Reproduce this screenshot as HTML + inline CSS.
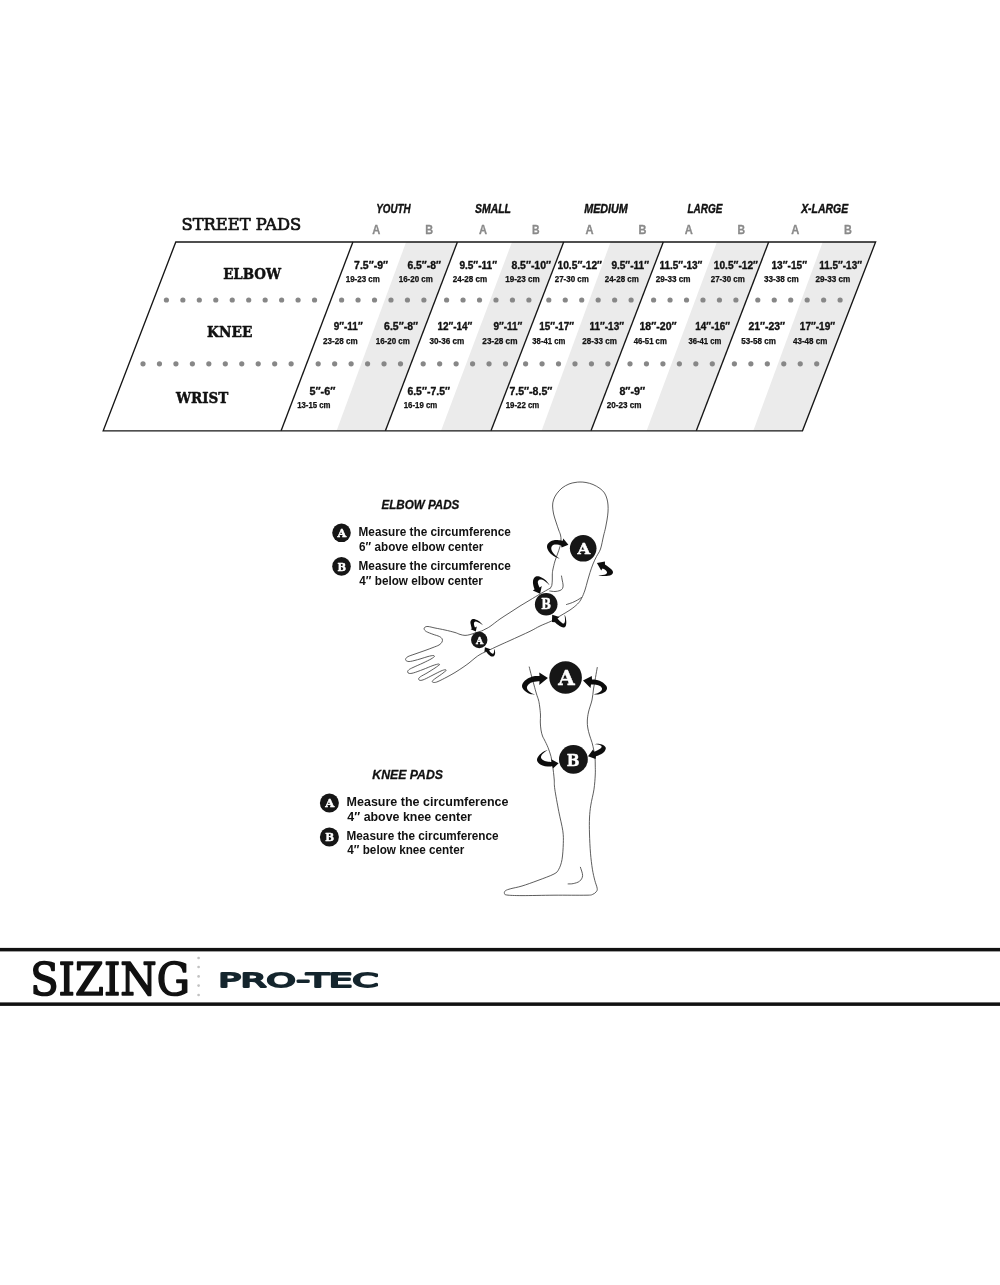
<!DOCTYPE html>
<html lang="en">
<head>
<meta charset="utf-8">
<title>Pro-Tec Street Pads Sizing</title>
<style>
html,body{margin:0;padding:0;background:#fff;}
body{width:1000px;height:1285px;overflow:hidden;font-family:"Liberation Sans", "DejaVu Sans", sans-serif;}
svg{display:block;will-change:transform;}
text{white-space:pre;}
</style>
</head>
<body>
<svg width="1000" height="1285" viewBox="0 0 1000 1285" role="img" aria-label="Pro-Tec street pads sizing chart">
<rect width="1000" height="1285" fill="#ffffff"/>
<g id="chart">
<polygon points="406.10,242.0 457.40,242.0 385.40,430.8 336.60,430.8" fill="#ebebeb"/>
<polygon points="512.00,242.0 563.70,242.0 491.00,430.8 441.00,430.8" fill="#ebebeb"/>
<polygon points="610.60,242.0 663.30,242.0 591.00,430.8 541.60,430.8" fill="#ebebeb"/>
<polygon points="716.90,242.0 768.70,242.0 696.30,430.8 646.60,430.8" fill="#ebebeb"/>
<polygon points="822.70,242.0 875.60,242.0 802.50,430.8 753.30,430.8" fill="#ebebeb"/>
<circle cx="166.40" cy="300.00" r="2.6" fill="#878787"/>
<circle cx="182.86" cy="300.00" r="2.6" fill="#878787"/>
<circle cx="199.32" cy="300.00" r="2.6" fill="#878787"/>
<circle cx="215.78" cy="300.00" r="2.6" fill="#878787"/>
<circle cx="232.24" cy="300.00" r="2.6" fill="#878787"/>
<circle cx="248.70" cy="300.00" r="2.6" fill="#878787"/>
<circle cx="265.16" cy="300.00" r="2.6" fill="#878787"/>
<circle cx="281.62" cy="300.00" r="2.6" fill="#878787"/>
<circle cx="298.08" cy="300.00" r="2.6" fill="#878787"/>
<circle cx="314.54" cy="300.00" r="2.6" fill="#878787"/>
<circle cx="341.60" cy="300.00" r="2.6" fill="#878787"/>
<circle cx="358.06" cy="300.00" r="2.6" fill="#878787"/>
<circle cx="374.52" cy="300.00" r="2.6" fill="#878787"/>
<circle cx="390.98" cy="300.00" r="2.6" fill="#878787"/>
<circle cx="407.44" cy="300.00" r="2.6" fill="#878787"/>
<circle cx="423.90" cy="300.00" r="2.6" fill="#878787"/>
<circle cx="446.60" cy="300.00" r="2.6" fill="#878787"/>
<circle cx="463.06" cy="300.00" r="2.6" fill="#878787"/>
<circle cx="479.52" cy="300.00" r="2.6" fill="#878787"/>
<circle cx="495.98" cy="300.00" r="2.6" fill="#878787"/>
<circle cx="512.44" cy="300.00" r="2.6" fill="#878787"/>
<circle cx="528.90" cy="300.00" r="2.6" fill="#878787"/>
<circle cx="548.80" cy="300.00" r="2.6" fill="#878787"/>
<circle cx="565.26" cy="300.00" r="2.6" fill="#878787"/>
<circle cx="581.72" cy="300.00" r="2.6" fill="#878787"/>
<circle cx="598.18" cy="300.00" r="2.6" fill="#878787"/>
<circle cx="614.64" cy="300.00" r="2.6" fill="#878787"/>
<circle cx="631.10" cy="300.00" r="2.6" fill="#878787"/>
<circle cx="653.60" cy="300.00" r="2.6" fill="#878787"/>
<circle cx="670.06" cy="300.00" r="2.6" fill="#878787"/>
<circle cx="686.52" cy="300.00" r="2.6" fill="#878787"/>
<circle cx="702.98" cy="300.00" r="2.6" fill="#878787"/>
<circle cx="719.44" cy="300.00" r="2.6" fill="#878787"/>
<circle cx="735.90" cy="300.00" r="2.6" fill="#878787"/>
<circle cx="757.80" cy="300.00" r="2.6" fill="#878787"/>
<circle cx="774.26" cy="300.00" r="2.6" fill="#878787"/>
<circle cx="790.72" cy="300.00" r="2.6" fill="#878787"/>
<circle cx="807.18" cy="300.00" r="2.6" fill="#878787"/>
<circle cx="823.64" cy="300.00" r="2.6" fill="#878787"/>
<circle cx="840.10" cy="300.00" r="2.6" fill="#878787"/>
<circle cx="143.00" cy="363.80" r="2.6" fill="#878787"/>
<circle cx="159.46" cy="363.80" r="2.6" fill="#878787"/>
<circle cx="175.92" cy="363.80" r="2.6" fill="#878787"/>
<circle cx="192.38" cy="363.80" r="2.6" fill="#878787"/>
<circle cx="208.84" cy="363.80" r="2.6" fill="#878787"/>
<circle cx="225.30" cy="363.80" r="2.6" fill="#878787"/>
<circle cx="241.76" cy="363.80" r="2.6" fill="#878787"/>
<circle cx="258.22" cy="363.80" r="2.6" fill="#878787"/>
<circle cx="274.68" cy="363.80" r="2.6" fill="#878787"/>
<circle cx="291.14" cy="363.80" r="2.6" fill="#878787"/>
<circle cx="318.20" cy="363.80" r="2.6" fill="#878787"/>
<circle cx="334.66" cy="363.80" r="2.6" fill="#878787"/>
<circle cx="351.12" cy="363.80" r="2.6" fill="#878787"/>
<circle cx="367.58" cy="363.80" r="2.6" fill="#878787"/>
<circle cx="384.04" cy="363.80" r="2.6" fill="#878787"/>
<circle cx="400.50" cy="363.80" r="2.6" fill="#878787"/>
<circle cx="423.20" cy="363.80" r="2.6" fill="#878787"/>
<circle cx="439.66" cy="363.80" r="2.6" fill="#878787"/>
<circle cx="456.12" cy="363.80" r="2.6" fill="#878787"/>
<circle cx="472.58" cy="363.80" r="2.6" fill="#878787"/>
<circle cx="489.04" cy="363.80" r="2.6" fill="#878787"/>
<circle cx="505.50" cy="363.80" r="2.6" fill="#878787"/>
<circle cx="525.60" cy="363.80" r="2.6" fill="#878787"/>
<circle cx="542.06" cy="363.80" r="2.6" fill="#878787"/>
<circle cx="558.52" cy="363.80" r="2.6" fill="#878787"/>
<circle cx="574.98" cy="363.80" r="2.6" fill="#878787"/>
<circle cx="591.44" cy="363.80" r="2.6" fill="#878787"/>
<circle cx="607.90" cy="363.80" r="2.6" fill="#878787"/>
<circle cx="630.00" cy="363.80" r="2.6" fill="#878787"/>
<circle cx="646.46" cy="363.80" r="2.6" fill="#878787"/>
<circle cx="662.92" cy="363.80" r="2.6" fill="#878787"/>
<circle cx="679.38" cy="363.80" r="2.6" fill="#878787"/>
<circle cx="695.84" cy="363.80" r="2.6" fill="#878787"/>
<circle cx="712.30" cy="363.80" r="2.6" fill="#878787"/>
<circle cx="734.40" cy="363.80" r="2.6" fill="#878787"/>
<circle cx="750.86" cy="363.80" r="2.6" fill="#878787"/>
<circle cx="767.32" cy="363.80" r="2.6" fill="#878787"/>
<circle cx="783.78" cy="363.80" r="2.6" fill="#878787"/>
<circle cx="800.24" cy="363.80" r="2.6" fill="#878787"/>
<circle cx="816.70" cy="363.80" r="2.6" fill="#878787"/>
<g stroke="#161616" stroke-width="1.35" fill="none" stroke-linejoin="miter">
<polygon points="175.8,242.0 875.6,242.0 802.5,430.8 103.2,430.8"/>
<line x1="352.9" y1="242.0" x2="281.1" y2="430.8"/>
<line x1="457.4" y1="242.0" x2="385.4" y2="430.8"/>
<line x1="563.7" y1="242.0" x2="491.0" y2="430.8"/>
<line x1="663.3" y1="242.0" x2="591.0" y2="430.8"/>
<line x1="768.7" y1="242.0" x2="696.3" y2="430.8"/>
</g>
<text x="181.48" y="229.50" font-family='"DejaVu Serif", "Liberation Serif", serif' font-size="15.8" font-weight="normal" font-style="normal" fill="#111111" textLength="119.78" lengthAdjust="spacingAndGlyphs" stroke="#111111" stroke-width="0.7" stroke-linejoin="round">STREET PADS</text>
<text x="223.15" y="279.00" font-family='"DejaVu Serif", "Liberation Serif", serif' font-size="15.6" font-weight="bold" font-style="normal" fill="#111111" textLength="57.95" lengthAdjust="spacingAndGlyphs" stroke="#111111" stroke-width="0.5" stroke-linejoin="round">ELBOW</text>
<text x="207.09" y="336.50" font-family='"DejaVu Serif", "Liberation Serif", serif' font-size="15.6" font-weight="bold" font-style="normal" fill="#111111" textLength="45.42" lengthAdjust="spacingAndGlyphs" stroke="#111111" stroke-width="0.5" stroke-linejoin="round">KNEE</text>
<text x="175.90" y="403.00" font-family='"DejaVu Serif", "Liberation Serif", serif' font-size="15.6" font-weight="bold" font-style="normal" fill="#111111" textLength="52.45" lengthAdjust="spacingAndGlyphs" stroke="#111111" stroke-width="0.5" stroke-linejoin="round">WRIST</text>
<text x="376.24" y="213.40" font-family='"Liberation Sans", "DejaVu Sans", sans-serif' font-size="12.4" font-weight="bold" font-style="italic" fill="#111111" textLength="34.26" lengthAdjust="spacingAndGlyphs" stroke="#111111" stroke-width="0.4" stroke-linejoin="round">YOUTH</text>
<text x="475.00" y="213.40" font-family='"Liberation Sans", "DejaVu Sans", sans-serif' font-size="12.4" font-weight="bold" font-style="italic" fill="#111111" textLength="36.01" lengthAdjust="spacingAndGlyphs" stroke="#111111" stroke-width="0.4" stroke-linejoin="round">SMALL</text>
<text x="584.25" y="213.40" font-family='"Liberation Sans", "DejaVu Sans", sans-serif' font-size="12.4" font-weight="bold" font-style="italic" fill="#111111" textLength="43.50" lengthAdjust="spacingAndGlyphs" stroke="#111111" stroke-width="0.4" stroke-linejoin="round">MEDIUM</text>
<text x="687.50" y="213.40" font-family='"Liberation Sans", "DejaVu Sans", sans-serif' font-size="12.4" font-weight="bold" font-style="italic" fill="#111111" textLength="35.01" lengthAdjust="spacingAndGlyphs" stroke="#111111" stroke-width="0.4" stroke-linejoin="round">LARGE</text>
<text x="801.14" y="213.40" font-family='"Liberation Sans", "DejaVu Sans", sans-serif' font-size="12.4" font-weight="bold" font-style="italic" fill="#111111" textLength="46.97" lengthAdjust="spacingAndGlyphs" stroke="#111111" stroke-width="0.4" stroke-linejoin="round">X-LARGE</text>
<text x="372.23" y="234.30" font-family='"Liberation Sans", "DejaVu Sans", sans-serif' font-size="12.5" font-weight="bold" font-style="normal" fill="#8a8a8a" textLength="8.04" lengthAdjust="spacingAndGlyphs" stroke="#8a8a8a" stroke-width="0.3" stroke-linejoin="round">A</text>
<text x="425.25" y="234.30" font-family='"Liberation Sans", "DejaVu Sans", sans-serif' font-size="12.5" font-weight="bold" font-style="normal" fill="#8a8a8a" textLength="7.87" lengthAdjust="spacingAndGlyphs" stroke="#8a8a8a" stroke-width="0.3" stroke-linejoin="round">B</text>
<text x="478.98" y="234.30" font-family='"Liberation Sans", "DejaVu Sans", sans-serif' font-size="12.5" font-weight="bold" font-style="normal" fill="#8a8a8a" textLength="8.04" lengthAdjust="spacingAndGlyphs" stroke="#8a8a8a" stroke-width="0.3" stroke-linejoin="round">A</text>
<text x="532.07" y="234.30" font-family='"Liberation Sans", "DejaVu Sans", sans-serif' font-size="12.5" font-weight="bold" font-style="normal" fill="#8a8a8a" textLength="7.59" lengthAdjust="spacingAndGlyphs" stroke="#8a8a8a" stroke-width="0.3" stroke-linejoin="round">B</text>
<text x="585.48" y="234.30" font-family='"Liberation Sans", "DejaVu Sans", sans-serif' font-size="12.5" font-weight="bold" font-style="normal" fill="#8a8a8a" textLength="8.04" lengthAdjust="spacingAndGlyphs" stroke="#8a8a8a" stroke-width="0.3" stroke-linejoin="round">A</text>
<text x="638.62" y="234.30" font-family='"Liberation Sans", "DejaVu Sans", sans-serif' font-size="12.5" font-weight="bold" font-style="normal" fill="#8a8a8a" textLength="7.97" lengthAdjust="spacingAndGlyphs" stroke="#8a8a8a" stroke-width="0.3" stroke-linejoin="round">B</text>
<text x="684.73" y="234.30" font-family='"Liberation Sans", "DejaVu Sans", sans-serif' font-size="12.5" font-weight="bold" font-style="normal" fill="#8a8a8a" textLength="8.04" lengthAdjust="spacingAndGlyphs" stroke="#8a8a8a" stroke-width="0.3" stroke-linejoin="round">A</text>
<text x="737.57" y="234.30" font-family='"Liberation Sans", "DejaVu Sans", sans-serif' font-size="12.5" font-weight="bold" font-style="normal" fill="#8a8a8a" textLength="7.59" lengthAdjust="spacingAndGlyphs" stroke="#8a8a8a" stroke-width="0.3" stroke-linejoin="round">B</text>
<text x="791.34" y="234.30" font-family='"Liberation Sans", "DejaVu Sans", sans-serif' font-size="12.5" font-weight="bold" font-style="normal" fill="#8a8a8a" textLength="8.06" lengthAdjust="spacingAndGlyphs" stroke="#8a8a8a" stroke-width="0.3" stroke-linejoin="round">A</text>
<text x="844.06" y="234.30" font-family='"Liberation Sans", "DejaVu Sans", sans-serif' font-size="12.5" font-weight="bold" font-style="normal" fill="#8a8a8a" textLength="7.89" lengthAdjust="spacingAndGlyphs" stroke="#8a8a8a" stroke-width="0.3" stroke-linejoin="round">B</text>
<text x="354.10" y="268.90" font-family='"Liberation Sans", "DejaVu Sans", sans-serif' font-size="10.5" font-weight="bold" font-style="normal" fill="#111111" textLength="33.90" lengthAdjust="spacingAndGlyphs" stroke="#111111" stroke-width="0.35" stroke-linejoin="round">7.5″-9″</text>
<text x="345.75" y="282.00" font-family='"Liberation Sans", "DejaVu Sans", sans-serif' font-size="8.3" font-weight="bold" font-style="normal" fill="#111111" textLength="34.16" lengthAdjust="spacingAndGlyphs" stroke="#111111" stroke-width="0.25" stroke-linejoin="round">19-23 cm</text>
<text x="407.40" y="268.90" font-family='"Liberation Sans", "DejaVu Sans", sans-serif' font-size="10.5" font-weight="bold" font-style="normal" fill="#111111" textLength="33.60" lengthAdjust="spacingAndGlyphs" stroke="#111111" stroke-width="0.35" stroke-linejoin="round">6.5″-8″</text>
<text x="398.74" y="282.00" font-family='"Liberation Sans", "DejaVu Sans", sans-serif' font-size="8.3" font-weight="bold" font-style="normal" fill="#111111" textLength="34.11" lengthAdjust="spacingAndGlyphs" stroke="#111111" stroke-width="0.25" stroke-linejoin="round">16-20 cm</text>
<text x="459.40" y="268.90" font-family='"Liberation Sans", "DejaVu Sans", sans-serif' font-size="10.5" font-weight="bold" font-style="normal" fill="#111111" textLength="37.60" lengthAdjust="spacingAndGlyphs" stroke="#111111" stroke-width="0.35" stroke-linejoin="round">9.5″-11″</text>
<text x="452.70" y="282.00" font-family='"Liberation Sans", "DejaVu Sans", sans-serif' font-size="8.3" font-weight="bold" font-style="normal" fill="#111111" textLength="34.51" lengthAdjust="spacingAndGlyphs" stroke="#111111" stroke-width="0.25" stroke-linejoin="round">24-28 cm</text>
<text x="511.40" y="268.90" font-family='"Liberation Sans", "DejaVu Sans", sans-serif' font-size="10.5" font-weight="bold" font-style="normal" fill="#111111" textLength="39.60" lengthAdjust="spacingAndGlyphs" stroke="#111111" stroke-width="0.35" stroke-linejoin="round">8.5″-10″</text>
<text x="505.14" y="282.00" font-family='"Liberation Sans", "DejaVu Sans", sans-serif' font-size="8.3" font-weight="bold" font-style="normal" fill="#111111" textLength="34.72" lengthAdjust="spacingAndGlyphs" stroke="#111111" stroke-width="0.25" stroke-linejoin="round">19-23 cm</text>
<text x="557.49" y="268.90" font-family='"Liberation Sans", "DejaVu Sans", sans-serif' font-size="10.5" font-weight="bold" font-style="normal" fill="#111111" textLength="44.51" lengthAdjust="spacingAndGlyphs" stroke="#111111" stroke-width="0.35" stroke-linejoin="round">10.5″-12″</text>
<text x="554.75" y="282.00" font-family='"Liberation Sans", "DejaVu Sans", sans-serif' font-size="8.3" font-weight="bold" font-style="normal" fill="#111111" textLength="34.16" lengthAdjust="spacingAndGlyphs" stroke="#111111" stroke-width="0.25" stroke-linejoin="round">27-30 cm</text>
<text x="611.40" y="268.90" font-family='"Liberation Sans", "DejaVu Sans", sans-serif' font-size="10.5" font-weight="bold" font-style="normal" fill="#111111" textLength="37.60" lengthAdjust="spacingAndGlyphs" stroke="#111111" stroke-width="0.35" stroke-linejoin="round">9.5″-11″</text>
<text x="604.75" y="282.00" font-family='"Liberation Sans", "DejaVu Sans", sans-serif' font-size="8.3" font-weight="bold" font-style="normal" fill="#111111" textLength="34.16" lengthAdjust="spacingAndGlyphs" stroke="#111111" stroke-width="0.25" stroke-linejoin="round">24-28 cm</text>
<text x="659.49" y="268.90" font-family='"Liberation Sans", "DejaVu Sans", sans-serif' font-size="10.5" font-weight="bold" font-style="normal" fill="#111111" textLength="42.85" lengthAdjust="spacingAndGlyphs" stroke="#111111" stroke-width="0.35" stroke-linejoin="round">11.5″-13″</text>
<text x="655.74" y="282.00" font-family='"Liberation Sans", "DejaVu Sans", sans-serif' font-size="8.3" font-weight="bold" font-style="normal" fill="#111111" textLength="34.76" lengthAdjust="spacingAndGlyphs" stroke="#111111" stroke-width="0.25" stroke-linejoin="round">29-33 cm</text>
<text x="713.84" y="268.90" font-family='"Liberation Sans", "DejaVu Sans", sans-serif' font-size="10.5" font-weight="bold" font-style="normal" fill="#111111" textLength="44.16" lengthAdjust="spacingAndGlyphs" stroke="#111111" stroke-width="0.35" stroke-linejoin="round">10.5″-12″</text>
<text x="710.74" y="282.00" font-family='"Liberation Sans", "DejaVu Sans", sans-serif' font-size="8.3" font-weight="bold" font-style="normal" fill="#111111" textLength="34.11" lengthAdjust="spacingAndGlyphs" stroke="#111111" stroke-width="0.25" stroke-linejoin="round">27-30 cm</text>
<text x="771.49" y="268.90" font-family='"Liberation Sans", "DejaVu Sans", sans-serif' font-size="10.5" font-weight="bold" font-style="normal" fill="#111111" textLength="35.51" lengthAdjust="spacingAndGlyphs" stroke="#111111" stroke-width="0.35" stroke-linejoin="round">13″-15″</text>
<text x="764.00" y="282.00" font-family='"Liberation Sans", "DejaVu Sans", sans-serif' font-size="8.3" font-weight="bold" font-style="normal" fill="#111111" textLength="34.86" lengthAdjust="spacingAndGlyphs" stroke="#111111" stroke-width="0.25" stroke-linejoin="round">33-38 cm</text>
<text x="819.15" y="268.90" font-family='"Liberation Sans", "DejaVu Sans", sans-serif' font-size="10.5" font-weight="bold" font-style="normal" fill="#111111" textLength="42.85" lengthAdjust="spacingAndGlyphs" stroke="#111111" stroke-width="0.35" stroke-linejoin="round">11.5″-13″</text>
<text x="815.40" y="282.00" font-family='"Liberation Sans", "DejaVu Sans", sans-serif' font-size="8.3" font-weight="bold" font-style="normal" fill="#111111" textLength="34.86" lengthAdjust="spacingAndGlyphs" stroke="#111111" stroke-width="0.25" stroke-linejoin="round">29-33 cm</text>
<text x="333.75" y="330.40" font-family='"Liberation Sans", "DejaVu Sans", sans-serif' font-size="10.5" font-weight="bold" font-style="normal" fill="#111111" textLength="28.90" lengthAdjust="spacingAndGlyphs" stroke="#111111" stroke-width="0.35" stroke-linejoin="round">9″-11″</text>
<text x="323.05" y="343.90" font-family='"Liberation Sans", "DejaVu Sans", sans-serif' font-size="8.3" font-weight="bold" font-style="normal" fill="#111111" textLength="34.51" lengthAdjust="spacingAndGlyphs" stroke="#111111" stroke-width="0.25" stroke-linejoin="round">23-28 cm</text>
<text x="384.10" y="330.40" font-family='"Liberation Sans", "DejaVu Sans", sans-serif' font-size="10.5" font-weight="bold" font-style="normal" fill="#111111" textLength="33.90" lengthAdjust="spacingAndGlyphs" stroke="#111111" stroke-width="0.35" stroke-linejoin="round">6.5″-8″</text>
<text x="375.74" y="343.90" font-family='"Liberation Sans", "DejaVu Sans", sans-serif' font-size="8.3" font-weight="bold" font-style="normal" fill="#111111" textLength="34.11" lengthAdjust="spacingAndGlyphs" stroke="#111111" stroke-width="0.25" stroke-linejoin="round">16-20 cm</text>
<text x="437.49" y="330.40" font-family='"Liberation Sans", "DejaVu Sans", sans-serif' font-size="10.5" font-weight="bold" font-style="normal" fill="#111111" textLength="34.86" lengthAdjust="spacingAndGlyphs" stroke="#111111" stroke-width="0.35" stroke-linejoin="round">12″-14″</text>
<text x="429.40" y="343.90" font-family='"Liberation Sans", "DejaVu Sans", sans-serif' font-size="8.3" font-weight="bold" font-style="normal" fill="#111111" textLength="34.86" lengthAdjust="spacingAndGlyphs" stroke="#111111" stroke-width="0.25" stroke-linejoin="round">30-36 cm</text>
<text x="493.40" y="330.40" font-family='"Liberation Sans", "DejaVu Sans", sans-serif' font-size="10.5" font-weight="bold" font-style="normal" fill="#111111" textLength="28.95" lengthAdjust="spacingAndGlyphs" stroke="#111111" stroke-width="0.35" stroke-linejoin="round">9″-11″</text>
<text x="482.35" y="343.90" font-family='"Liberation Sans", "DejaVu Sans", sans-serif' font-size="8.3" font-weight="bold" font-style="normal" fill="#111111" textLength="35.16" lengthAdjust="spacingAndGlyphs" stroke="#111111" stroke-width="0.25" stroke-linejoin="round">23-28 cm</text>
<text x="539.14" y="330.40" font-family='"Liberation Sans", "DejaVu Sans", sans-serif' font-size="10.5" font-weight="bold" font-style="normal" fill="#111111" textLength="34.86" lengthAdjust="spacingAndGlyphs" stroke="#111111" stroke-width="0.35" stroke-linejoin="round">15″-17″</text>
<text x="532.35" y="343.90" font-family='"Liberation Sans", "DejaVu Sans", sans-serif' font-size="8.3" font-weight="bold" font-style="normal" fill="#111111" textLength="32.91" lengthAdjust="spacingAndGlyphs" stroke="#111111" stroke-width="0.25" stroke-linejoin="round">38-41 cm</text>
<text x="589.49" y="330.40" font-family='"Liberation Sans", "DejaVu Sans", sans-serif' font-size="10.5" font-weight="bold" font-style="normal" fill="#111111" textLength="34.51" lengthAdjust="spacingAndGlyphs" stroke="#111111" stroke-width="0.35" stroke-linejoin="round">11″-13″</text>
<text x="582.35" y="343.90" font-family='"Liberation Sans", "DejaVu Sans", sans-serif' font-size="8.3" font-weight="bold" font-style="normal" fill="#111111" textLength="34.51" lengthAdjust="spacingAndGlyphs" stroke="#111111" stroke-width="0.25" stroke-linejoin="round">28-33 cm</text>
<text x="639.49" y="330.40" font-family='"Liberation Sans", "DejaVu Sans", sans-serif' font-size="10.5" font-weight="bold" font-style="normal" fill="#111111" textLength="37.16" lengthAdjust="spacingAndGlyphs" stroke="#111111" stroke-width="0.35" stroke-linejoin="round">18″-20″</text>
<text x="633.65" y="343.90" font-family='"Liberation Sans", "DejaVu Sans", sans-serif' font-size="8.3" font-weight="bold" font-style="normal" fill="#111111" textLength="33.20" lengthAdjust="spacingAndGlyphs" stroke="#111111" stroke-width="0.25" stroke-linejoin="round">46-51 cm</text>
<text x="695.14" y="330.40" font-family='"Liberation Sans", "DejaVu Sans", sans-serif' font-size="10.5" font-weight="bold" font-style="normal" fill="#111111" textLength="34.86" lengthAdjust="spacingAndGlyphs" stroke="#111111" stroke-width="0.35" stroke-linejoin="round">14″-16″</text>
<text x="688.40" y="343.90" font-family='"Liberation Sans", "DejaVu Sans", sans-serif' font-size="8.3" font-weight="bold" font-style="normal" fill="#111111" textLength="32.86" lengthAdjust="spacingAndGlyphs" stroke="#111111" stroke-width="0.25" stroke-linejoin="round">36-41 cm</text>
<text x="748.40" y="330.40" font-family='"Liberation Sans", "DejaVu Sans", sans-serif' font-size="10.5" font-weight="bold" font-style="normal" fill="#111111" textLength="36.60" lengthAdjust="spacingAndGlyphs" stroke="#111111" stroke-width="0.35" stroke-linejoin="round">21″-23″</text>
<text x="741.35" y="343.90" font-family='"Liberation Sans", "DejaVu Sans", sans-serif' font-size="8.3" font-weight="bold" font-style="normal" fill="#111111" textLength="34.56" lengthAdjust="spacingAndGlyphs" stroke="#111111" stroke-width="0.25" stroke-linejoin="round">53-58 cm</text>
<text x="799.84" y="330.40" font-family='"Liberation Sans", "DejaVu Sans", sans-serif' font-size="10.5" font-weight="bold" font-style="normal" fill="#111111" textLength="35.16" lengthAdjust="spacingAndGlyphs" stroke="#111111" stroke-width="0.35" stroke-linejoin="round">17″-19″</text>
<text x="793.00" y="343.90" font-family='"Liberation Sans", "DejaVu Sans", sans-serif' font-size="8.3" font-weight="bold" font-style="normal" fill="#111111" textLength="34.25" lengthAdjust="spacingAndGlyphs" stroke="#111111" stroke-width="0.25" stroke-linejoin="round">43-48 cm</text>
<text x="309.40" y="394.90" font-family='"Liberation Sans", "DejaVu Sans", sans-serif' font-size="10.5" font-weight="bold" font-style="normal" fill="#111111" textLength="25.95" lengthAdjust="spacingAndGlyphs" stroke="#111111" stroke-width="0.35" stroke-linejoin="round">5″-6″</text>
<text x="297.14" y="408.30" font-family='"Liberation Sans", "DejaVu Sans", sans-serif' font-size="8.3" font-weight="bold" font-style="normal" fill="#111111" textLength="33.37" lengthAdjust="spacingAndGlyphs" stroke="#111111" stroke-width="0.25" stroke-linejoin="round">13-15 cm</text>
<text x="407.40" y="394.90" font-family='"Liberation Sans", "DejaVu Sans", sans-serif' font-size="10.5" font-weight="bold" font-style="normal" fill="#111111" textLength="42.60" lengthAdjust="spacingAndGlyphs" stroke="#111111" stroke-width="0.35" stroke-linejoin="round">6.5″-7.5″</text>
<text x="403.75" y="408.30" font-family='"Liberation Sans", "DejaVu Sans", sans-serif' font-size="8.3" font-weight="bold" font-style="normal" fill="#111111" textLength="33.51" lengthAdjust="spacingAndGlyphs" stroke="#111111" stroke-width="0.25" stroke-linejoin="round">16-19 cm</text>
<text x="509.40" y="394.90" font-family='"Liberation Sans", "DejaVu Sans", sans-serif' font-size="10.5" font-weight="bold" font-style="normal" fill="#111111" textLength="42.95" lengthAdjust="spacingAndGlyphs" stroke="#111111" stroke-width="0.35" stroke-linejoin="round">7.5″-8.5″</text>
<text x="505.75" y="408.30" font-family='"Liberation Sans", "DejaVu Sans", sans-serif' font-size="8.3" font-weight="bold" font-style="normal" fill="#111111" textLength="33.51" lengthAdjust="spacingAndGlyphs" stroke="#111111" stroke-width="0.25" stroke-linejoin="round">19-22 cm</text>
<text x="619.40" y="394.90" font-family='"Liberation Sans", "DejaVu Sans", sans-serif' font-size="10.5" font-weight="bold" font-style="normal" fill="#111111" textLength="25.60" lengthAdjust="spacingAndGlyphs" stroke="#111111" stroke-width="0.35" stroke-linejoin="round">8″-9″</text>
<text x="606.74" y="408.30" font-family='"Liberation Sans", "DejaVu Sans", sans-serif' font-size="8.3" font-weight="bold" font-style="normal" fill="#111111" textLength="34.76" lengthAdjust="spacingAndGlyphs" stroke="#111111" stroke-width="0.25" stroke-linejoin="round">20-23 cm</text>
</g>
<g id="legend">
<circle cx="341.5" cy="532.8" r="9.3" fill="#161616"/>
<circle cx="341.5" cy="566.4" r="9.3" fill="#161616"/>
<circle cx="329.4" cy="803.0" r="9.5" fill="#161616"/>
<circle cx="329.4" cy="837.0" r="9.5" fill="#161616"/>
<text x="381.40" y="509.20" font-family='"Liberation Sans", "DejaVu Sans", sans-serif' font-size="12.4" font-weight="bold" font-style="italic" fill="#111111" textLength="77.95" lengthAdjust="spacingAndGlyphs" stroke="#111111" stroke-width="0.3" stroke-linejoin="round">ELBOW PADS</text>
<text x="337.47" y="536.80" font-family='"DejaVu Serif", "Liberation Serif", serif' font-size="11.248285322359395" font-weight="bold" font-style="normal" fill="#ffffff" textLength="8.72" lengthAdjust="spacingAndGlyphs" stroke="#ffffff" stroke-width="0.45" stroke-linejoin="round">A</text>
<text x="337.52" y="570.70" font-family='"DejaVu Serif", "Liberation Serif", serif' font-size="11.248285322359395" font-weight="bold" font-style="normal" fill="#ffffff" textLength="8.56" lengthAdjust="spacingAndGlyphs" stroke="#ffffff" stroke-width="0.45" stroke-linejoin="round">B</text>
<text x="358.59" y="536.00" font-family='"Liberation Sans", "DejaVu Sans", sans-serif' font-size="12" font-weight="bold" font-style="normal" fill="#111111" textLength="152.26" lengthAdjust="spacingAndGlyphs">Measure the circumference</text>
<text x="359.10" y="550.60" font-family='"Liberation Sans", "DejaVu Sans", sans-serif' font-size="12" font-weight="bold" font-style="normal" fill="#111111" textLength="124.15" lengthAdjust="spacingAndGlyphs">6″ above elbow center</text>
<text x="358.59" y="570.00" font-family='"Liberation Sans", "DejaVu Sans", sans-serif' font-size="12" font-weight="bold" font-style="normal" fill="#111111" textLength="152.26" lengthAdjust="spacingAndGlyphs">Measure the circumference</text>
<text x="359.35" y="584.60" font-family='"Liberation Sans", "DejaVu Sans", sans-serif' font-size="12" font-weight="bold" font-style="normal" fill="#111111" textLength="123.55" lengthAdjust="spacingAndGlyphs">4″ below elbow center</text>
<text x="372.35" y="779.00" font-family='"Liberation Sans", "DejaVu Sans", sans-serif' font-size="13.0" font-weight="bold" font-style="italic" fill="#111111" textLength="70.65" lengthAdjust="spacingAndGlyphs" stroke="#111111" stroke-width="0.3" stroke-linejoin="round">KNEE PADS</text>
<text x="325.17" y="807.20" font-family='"DejaVu Serif", "Liberation Serif", serif' font-size="11.522633744855968" font-weight="bold" font-style="normal" fill="#ffffff" textLength="9.01" lengthAdjust="spacingAndGlyphs" stroke="#ffffff" stroke-width="0.45" stroke-linejoin="round">A</text>
<text x="325.23" y="841.30" font-family='"DejaVu Serif", "Liberation Serif", serif' font-size="11.522633744855968" font-weight="bold" font-style="normal" fill="#ffffff" textLength="8.86" lengthAdjust="spacingAndGlyphs" stroke="#ffffff" stroke-width="0.45" stroke-linejoin="round">B</text>
<text x="346.59" y="805.60" font-family='"Liberation Sans", "DejaVu Sans", sans-serif' font-size="12.6" font-weight="bold" font-style="normal" fill="#111111" textLength="161.91" lengthAdjust="spacingAndGlyphs">Measure the circumference</text>
<text x="347.35" y="820.60" font-family='"Liberation Sans", "DejaVu Sans", sans-serif' font-size="12.6" font-weight="bold" font-style="normal" fill="#111111" textLength="124.55" lengthAdjust="spacingAndGlyphs">4″ above knee center</text>
<text x="346.59" y="839.60" font-family='"Liberation Sans", "DejaVu Sans", sans-serif' font-size="12" font-weight="bold" font-style="normal" fill="#111111" textLength="151.91" lengthAdjust="spacingAndGlyphs">Measure the circumference</text>
<text x="347.35" y="854.00" font-family='"Liberation Sans", "DejaVu Sans", sans-serif' font-size="12" font-weight="bold" font-style="normal" fill="#111111" textLength="116.90" lengthAdjust="spacingAndGlyphs">4″ below knee center</text>
</g>
<g id="illustrations">
<path d="M550.20,588.20 C550.47,587.73 551.45,586.77 551.80,585.40 C552.15,584.03 552.22,581.73 552.30,580.00 C552.38,578.27 552.22,576.67 552.30,575.00 C552.38,573.33 552.35,572.33 552.80,570.00 C553.25,567.67 554.22,563.67 555.00,561.00 C555.78,558.33 556.67,556.42 557.50,554.00 C558.33,551.58 559.42,548.83 560.00,546.50 C560.58,544.17 560.92,541.92 561.00,540.00 C561.08,538.08 560.88,536.67 560.50,535.00 C560.12,533.33 559.45,532.17 558.70,530.00 C557.95,527.83 556.85,524.67 556.00,522.00 C555.15,519.33 554.17,516.67 553.60,514.00 C553.03,511.33 552.62,508.33 552.60,506.00 C552.58,503.67 552.85,502.00 553.50,500.00 C554.15,498.00 555.08,496.00 556.50,494.00 C557.92,492.00 559.92,489.67 562.00,488.00 C564.08,486.33 566.83,484.92 569.00,484.00 C571.17,483.08 573.17,482.83 575.00,482.50 C576.83,482.17 578.17,482.00 580.00,482.00 C581.83,482.00 583.83,482.08 586.00,482.50 C588.17,482.92 590.67,483.50 593.00,484.50 C595.33,485.50 598.08,487.08 600.00,488.50 C601.92,489.92 603.33,491.25 604.50,493.00 C605.67,494.75 606.42,497.00 607.00,499.00 C607.58,501.00 607.83,502.83 608.00,505.00 C608.17,507.17 608.17,509.50 608.00,512.00 C607.83,514.50 607.42,517.33 607.00,520.00 C606.58,522.67 606.08,525.33 605.50,528.00 C604.92,530.67 604.33,532.50 603.50,536.00 C602.67,539.50 601.67,545.58 600.50,549.00 C599.33,552.42 597.75,554.00 596.50,556.50 C595.25,559.00 594.08,561.33 593.00,564.00 C591.92,566.67 590.92,569.67 590.00,572.50 C589.08,575.33 588.33,578.08 587.50,581.00 C586.67,583.92 586.00,587.08 585.00,590.00 C584.00,592.92 582.75,596.17 581.50,598.50 C580.25,600.83 579.42,602.08 577.50,604.00 C575.58,605.92 572.92,608.00 570.00,610.00 C567.08,612.00 563.08,614.17 560.00,616.00 C556.92,617.83 554.83,619.33 551.50,621.00 C548.17,622.67 543.58,624.28 540.00,626.00 C536.42,627.72 535.00,628.88 530.00,631.30 C525.00,633.72 515.00,638.22 510.00,640.50 C505.00,642.78 502.92,643.67 500.00,645.00 C497.08,646.33 495.00,647.33 492.50,648.50 C490.00,649.67 487.08,651.00 485.00,652.00 C482.92,653.00 481.67,653.50 480.00,654.50 C478.33,655.50 476.83,656.58 475.00,658.00 C473.17,659.42 471.00,661.45 469.00,663.00 C467.00,664.55 465.33,665.72 463.00,667.30 C460.67,668.88 457.67,670.88 455.00,672.50 C452.33,674.12 449.83,675.50 447.00,677.00 C444.17,678.50 440.17,680.58 438.00,681.50 C435.83,682.42 434.97,682.52 434.00,682.50 C433.03,682.48 432.10,681.98 432.20,681.40 C432.30,680.82 433.05,680.20 434.60,679.00 C436.15,677.80 439.57,675.62 441.50,674.20 C443.43,672.78 445.42,671.12 446.20,670.50 C446.03,670.37 446.07,669.62 445.20,669.70 C444.33,669.78 443.03,670.12 441.00,671.00 C438.97,671.88 435.75,673.62 433.00,675.00 C430.25,676.38 426.63,678.40 424.50,679.30 C422.37,680.20 421.18,680.45 420.20,680.40 C419.22,680.35 418.58,679.60 418.60,679.00 C418.62,678.40 418.90,677.80 420.30,676.80 C421.70,675.80 424.55,674.47 427.00,673.00 C429.45,671.53 432.92,669.37 435.00,668.00 C437.08,666.63 438.75,665.33 439.50,664.80 C439.35,664.67 439.68,663.88 438.60,664.00 C437.52,664.12 435.60,664.58 433.00,665.50 C430.40,666.42 426.25,668.27 423.00,669.50 C419.75,670.73 415.80,672.25 413.50,672.90 C411.20,673.55 410.18,673.55 409.20,673.40 C408.22,673.25 407.67,672.60 407.60,672.00 C407.53,671.40 407.90,670.55 408.80,669.80 C409.70,669.05 410.63,668.63 413.00,667.50 C415.37,666.37 420.00,664.42 423.00,663.00 C426.00,661.58 429.08,660.08 431.00,659.00 C432.92,657.92 433.92,656.92 434.50,656.50 C434.32,656.33 434.48,655.50 433.40,655.50 C432.32,655.50 430.23,655.92 428.00,656.50 C425.77,657.08 422.92,658.18 420.00,659.00 C417.08,659.82 412.72,661.07 410.50,661.40 C408.28,661.73 407.52,661.37 406.70,661.00 C405.88,660.63 405.42,659.92 405.60,659.20 C405.78,658.48 406.23,657.57 407.80,656.70 C409.37,655.83 412.13,655.03 415.00,654.00 C417.87,652.97 422.00,651.58 425.00,650.50 C428.00,649.42 430.67,648.42 433.00,647.50 C435.33,646.58 437.50,645.92 439.00,645.00 C440.50,644.08 441.47,643.00 442.00,642.00 C442.53,641.00 442.63,639.92 442.20,639.00 C441.77,638.08 440.93,637.28 439.40,636.50 C437.87,635.72 435.17,635.12 433.00,634.30 C430.83,633.48 427.87,632.45 426.40,631.60 C424.93,630.75 424.47,629.92 424.20,629.20 C423.93,628.48 424.17,627.75 424.80,627.30 C425.43,626.85 426.30,626.38 428.00,626.50 C429.70,626.62 432.17,627.42 435.00,628.00 C437.83,628.58 441.67,629.25 445.00,630.00 C448.33,630.75 452.50,631.77 455.00,632.50 C457.50,633.23 458.33,633.92 460.00,634.40 C461.67,634.88 463.33,635.37 465.00,635.40 C466.67,635.43 468.17,635.07 470.00,634.60 C471.83,634.13 474.08,633.20 476.00,632.60 C477.92,632.00 480.00,631.56 481.50,631.00 C483.00,630.44 483.58,630.00 485.00,629.25 C486.42,628.50 487.50,628.21 490.00,626.50 C492.50,624.79 496.67,621.33 500.00,619.00 C503.33,616.67 506.67,614.67 510.00,612.50 C513.33,610.33 516.67,608.08 520.00,606.00 C523.33,603.92 526.67,602.00 530.00,600.00 C533.33,598.00 537.17,595.67 540.00,594.00 C542.83,592.33 545.30,590.97 547.00,590.00 C548.70,589.03 549.67,588.50 550.20,588.20 " fill="none" stroke="#333333" stroke-width="0.8" stroke-linecap="round" stroke-linejoin="round"/>
<path d="M561.50,576.00 C561.62,576.67 561.93,578.50 562.20,580.00 C562.47,581.50 563.05,583.58 563.10,585.00 C563.15,586.42 563.02,587.58 562.50,588.50 C561.98,589.42 561.25,590.00 560.00,590.50 C558.75,591.00 556.70,591.42 555.00,591.50 C553.30,591.58 550.67,591.08 549.80,591.00" fill="none" stroke="#333333" stroke-width="0.8" stroke-linecap="round" stroke-linejoin="round"/>
<path d="M566.50,604.50 C567.50,604.17 570.67,603.25 572.50,602.50 C574.33,601.75 576.00,600.83 577.50,600.00 C579.00,599.17 580.83,597.92 581.50,597.50" fill="none" stroke="#333333" stroke-width="0.8" stroke-linecap="round" stroke-linejoin="round"/>
<path d="M529.25,667.00 C529.62,668.50 530.71,673.00 531.50,676.00 C532.29,679.00 533.17,682.00 534.00,685.00 C534.83,688.00 535.75,691.50 536.50,694.00 C537.25,696.50 537.98,698.00 538.50,700.00 C539.02,702.00 539.27,703.50 539.60,706.00 C539.93,708.50 540.38,712.33 540.50,715.00 C540.62,717.67 540.22,719.50 540.30,722.00 C540.38,724.50 540.63,727.67 541.00,730.00 C541.37,732.33 541.92,734.33 542.50,736.00 C543.08,737.67 543.58,738.08 544.50,740.00 C545.42,741.92 546.92,744.75 548.00,747.50 C549.08,750.25 550.25,753.58 551.00,756.50 C551.75,759.42 552.08,762.33 552.50,765.00 C552.92,767.67 553.21,770.00 553.50,772.50 C553.79,775.00 554.03,777.22 554.25,780.00 C554.47,782.78 554.04,783.93 554.80,789.20 C555.56,794.47 557.47,804.67 558.80,811.60 C560.13,818.53 562.05,825.47 562.80,830.80 C563.55,836.13 563.43,838.80 563.30,843.60 C563.17,848.40 562.75,855.33 562.00,859.60 C561.25,863.87 560.13,866.80 558.80,869.20 C557.47,871.60 557.47,872.13 554.00,874.00 C550.53,875.87 543.33,878.40 538.00,880.40 C532.67,882.40 526.53,884.62 522.00,886.00 C517.47,887.38 513.53,887.93 510.80,888.70 C508.07,889.47 506.67,889.88 505.60,890.60 C504.53,891.32 504.20,892.27 504.40,893.00 C504.60,893.73 503.87,894.57 506.80,895.00 C509.73,895.43 514.13,895.57 522.00,895.60 C529.87,895.63 543.33,895.27 554.00,895.20 C564.67,895.13 579.60,895.32 586.00,895.20 C592.40,895.08 590.70,895.07 592.40,894.50 C594.10,893.93 595.40,892.82 596.20,891.80 C597.00,890.78 597.43,890.30 597.20,888.40 C596.97,886.50 595.60,883.60 594.80,880.40 C594.00,877.20 593.12,873.73 592.40,869.20 C591.68,864.67 590.98,859.07 590.50,853.20 C590.02,847.33 589.67,839.87 589.50,834.00 C589.33,828.13 589.28,822.80 589.50,818.00 C589.72,813.20 590.05,810.00 590.80,805.20 C591.55,800.40 593.26,794.23 594.00,789.20 C594.74,784.17 595.04,779.03 595.25,775.00 C595.46,770.97 595.29,767.92 595.25,765.00 C595.21,762.08 595.25,760.00 595.00,757.50 C594.75,755.00 594.25,752.50 593.75,750.00 C593.25,747.50 592.71,745.00 592.00,742.50 C591.29,740.00 590.20,737.42 589.50,735.00 C588.80,732.58 588.17,730.33 587.80,728.00 C587.43,725.67 587.18,723.67 587.30,721.00 C587.42,718.33 587.72,715.50 588.50,712.00 C589.28,708.50 591.17,703.83 592.00,700.00 C592.83,696.17 592.92,692.75 593.50,689.00 C594.08,685.25 594.88,681.08 595.50,677.50 C596.12,673.92 596.96,669.17 597.25,667.50" fill="none" stroke="#333333" stroke-width="0.8" stroke-linecap="round" stroke-linejoin="round"/>
<path d="M580.40,867.30 C580.77,868.68 582.73,873.28 582.60,875.60 C582.47,877.92 581.17,879.87 579.60,881.20 C578.03,882.53 575.12,883.15 573.20,883.60 C571.28,884.05 568.95,883.85 568.10,883.90" fill="none" stroke="#333333" stroke-width="0.8" stroke-linecap="round" stroke-linejoin="round"/>
<path d="M559.75,558.75 C558.88,558.38 556.12,557.46 554.50,556.50 C552.88,555.54 551.17,554.25 550.00,553.00 C548.83,551.75 547.96,550.33 547.50,549.00 C547.04,547.67 546.83,546.21 547.25,545.00 C547.67,543.79 548.88,542.54 550.00,541.75 C551.12,540.96 552.50,540.50 554.00,540.25 C555.50,540.00 557.54,540.17 559.00,540.25 C560.46,540.33 562.12,540.67 562.75,540.75 L563.25,538.50 L568.40,544.75 L561.60,547.60 L561.00,545.20 C560.08,545.10 556.92,544.53 555.50,544.60 C554.08,544.67 553.21,544.95 552.50,545.60 C551.79,546.25 551.25,547.43 551.25,548.50 C551.25,549.57 551.79,550.83 552.50,552.00 C553.21,553.17 554.29,554.38 555.50,555.50 C556.71,556.62 559.04,558.21 559.75,558.75 Z" fill="#0d0d0d"/>
<path d="M597.30,575.40 C598.25,575.48 601.22,575.84 603.00,575.90 C604.78,575.96 606.58,575.94 608.00,575.75 C609.42,575.56 610.67,575.29 611.50,574.75 C612.33,574.21 612.92,573.29 613.00,572.50 C613.08,571.71 612.75,570.92 612.00,570.00 C611.25,569.08 609.67,567.92 608.50,567.00 C607.33,566.08 605.58,564.92 605.00,564.50 L604.90,561.40 L596.90,563.10 L601.20,570.60 L602.50,568.40 C602.78,568.55 603.55,568.87 604.20,569.30 C604.85,569.73 605.93,570.42 606.40,571.00 C606.87,571.58 607.10,572.27 607.00,572.80 C606.90,573.33 606.55,573.85 605.80,574.20 C605.05,574.55 603.92,574.70 602.50,574.90 C601.08,575.10 598.17,575.32 597.30,575.40 Z" fill="#0d0d0d"/>
<path d="M549.60,585.20 C549.00,584.42 547.35,581.78 546.00,580.50 C544.65,579.22 542.92,578.21 541.50,577.50 C540.08,576.79 538.67,576.25 537.50,576.25 C536.33,576.25 535.25,576.71 534.50,577.50 C533.75,578.29 533.21,579.75 533.00,581.00 C532.79,582.25 533.00,583.60 533.25,585.00 C533.50,586.40 534.29,588.67 534.50,589.40 L532.80,590.40 L540.10,593.70 L541.80,585.90 L539.60,587.50 C539.38,587.00 538.60,585.47 538.30,584.50 C538.00,583.53 537.68,582.47 537.80,581.70 C537.92,580.93 538.38,580.25 539.00,579.90 C539.62,579.55 540.50,579.37 541.50,579.60 C542.50,579.83 543.65,580.37 545.00,581.30 C546.35,582.23 548.83,584.55 549.60,585.20 Z" fill="#0d0d0d"/>
<path d="M564.50,614.75 C564.68,615.12 565.30,615.79 565.60,617.00 C565.90,618.21 566.27,620.50 566.30,622.00 C566.32,623.50 566.13,625.08 565.75,626.00 C565.37,626.92 564.79,627.38 564.00,627.50 C563.21,627.62 562.08,627.25 561.00,626.75 C559.92,626.25 558.50,625.26 557.50,624.50 C556.50,623.74 555.42,622.58 555.00,622.20 L551.90,621.90 L552.20,614.70 L559.40,617.00 L557.50,618.60 C557.92,619.05 559.18,620.53 560.00,621.30 C560.82,622.07 561.70,622.88 562.40,623.20 C563.10,623.52 563.77,623.57 564.20,623.20 C564.63,622.83 564.88,621.95 565.00,621.00 C565.12,620.05 564.98,618.54 564.90,617.50 C564.82,616.46 564.57,615.21 564.50,614.75 Z" fill="#0d0d0d"/>
<path d="M483.00,625.25 C482.42,624.62 480.75,622.46 479.50,621.50 C478.25,620.54 476.71,619.88 475.50,619.50 C474.29,619.12 473.08,618.92 472.25,619.25 C471.42,619.58 470.75,620.62 470.50,621.50 C470.25,622.38 470.54,623.33 470.75,624.50 C470.96,625.67 471.58,627.83 471.75,628.50 L470.70,629.20 L475.80,631.60 L476.80,626.40 L475.00,627.50 C474.83,627.00 474.12,625.38 474.00,624.50 C473.88,623.62 473.97,622.70 474.30,622.20 C474.63,621.70 475.22,621.40 476.00,621.50 C476.78,621.60 477.83,622.17 479.00,622.80 C480.17,623.42 482.33,624.84 483.00,625.25 Z" fill="#0d0d0d"/>
<path d="M494.00,649.00 C494.13,649.25 494.62,649.75 494.80,650.50 C494.98,651.25 495.23,652.58 495.10,653.50 C494.97,654.42 494.60,655.50 494.00,656.00 C493.40,656.50 492.42,656.75 491.50,656.50 C490.58,656.25 489.42,655.32 488.50,654.50 C487.58,653.68 486.42,652.08 486.00,651.60 L484.40,652.10 L484.90,647.20 L490.60,649.20 L489.00,650.50 C489.33,650.88 490.35,652.25 491.00,652.80 C491.65,653.35 492.43,653.80 492.90,653.80 C493.37,653.80 493.60,653.27 493.80,652.80 C494.00,652.33 494.07,651.63 494.10,651.00 C494.13,650.37 494.02,649.33 494.00,649.00 Z" fill="#0d0d0d"/>
<path d="M535.00,694.75 C534.08,694.58 531.17,694.38 529.50,693.75 C527.83,693.12 526.17,691.96 525.00,691.00 C523.83,690.04 522.96,689.08 522.50,688.00 C522.04,686.92 521.83,685.75 522.25,684.50 C522.67,683.25 523.71,681.67 525.00,680.50 C526.29,679.33 528.33,678.25 530.00,677.50 C531.67,676.75 533.42,676.25 535.00,676.00 C536.58,675.75 538.75,676.00 539.50,676.00 L539.25,672.40 L547.90,678.00 L539.25,684.90 L539.50,681.25 C538.42,681.38 534.75,681.54 533.00,682.00 C531.25,682.46 530.00,683.17 529.00,684.00 C528.00,684.83 527.21,686.00 527.00,687.00 C526.79,688.00 527.17,689.08 527.75,690.00 C528.33,690.92 529.29,691.71 530.50,692.50 C531.71,693.29 534.25,694.38 535.00,694.75 Z" fill="#0d0d0d"/>
<path d="M593.50,694.50 C594.25,694.50 596.58,694.67 598.00,694.50 C599.42,694.33 600.75,694.00 602.00,693.50 C603.25,693.00 604.67,692.33 605.50,691.50 C606.33,690.67 606.92,689.50 607.00,688.50 C607.08,687.50 606.83,686.58 606.00,685.50 C605.17,684.42 603.50,682.92 602.00,682.00 C600.50,681.08 598.67,680.42 597.00,680.00 C595.33,679.58 592.83,679.58 592.00,679.50 L591.80,675.90 L583.00,680.50 L590.50,687.90 L591.00,684.50 C591.83,684.54 594.50,684.50 596.00,684.75 C597.50,685.00 599.00,685.38 600.00,686.00 C601.00,686.62 601.83,687.67 602.00,688.50 C602.17,689.33 601.67,690.25 601.00,691.00 C600.33,691.75 599.25,692.42 598.00,693.00 C596.75,693.58 594.25,694.25 593.50,694.50 Z" fill="#0d0d0d"/>
<path d="M547.50,750.00 C546.75,750.33 544.42,751.08 543.00,752.00 C541.58,752.92 540.00,754.25 539.00,755.50 C538.00,756.75 537.08,758.25 537.00,759.50 C536.92,760.75 537.58,762.00 538.50,763.00 C539.42,764.00 541.00,764.92 542.50,765.50 C544.00,766.08 545.83,766.38 547.50,766.50 C549.17,766.62 551.67,766.29 552.50,766.25 L553.00,768.60 L558.60,763.25 L551.20,759.20 L551.50,762.00 C550.75,761.92 548.42,761.83 547.00,761.50 C545.58,761.17 544.00,760.67 543.00,760.00 C542.00,759.33 541.08,758.50 541.00,757.50 C540.92,756.50 541.42,755.25 542.50,754.00 C543.58,752.75 546.67,750.67 547.50,750.00 Z" fill="#0d0d0d"/>
<path d="M593.75,744.25 C594.54,744.17 596.96,743.62 598.50,743.75 C600.04,743.88 601.79,744.33 603.00,745.00 C604.21,745.67 605.50,746.67 605.75,747.75 C606.00,748.83 605.29,750.42 604.50,751.50 C603.71,752.58 602.42,753.46 601.00,754.25 C599.58,755.04 596.83,755.92 596.00,756.25 L595.60,758.90 L588.00,756.25 L593.00,749.40 L594.25,751.75 C594.88,751.46 596.88,750.62 598.00,750.00 C599.12,749.38 600.42,748.62 601.00,748.00 C601.58,747.38 601.83,746.79 601.50,746.25 C601.17,745.71 600.29,745.08 599.00,744.75 C597.71,744.42 594.62,744.33 593.75,744.25 Z" fill="#0d0d0d"/>
<circle cx="583.2" cy="548.3" r="13.3" fill="#161616"/>
<circle cx="546.2" cy="604.2" r="11.3" fill="#161616"/>
<circle cx="479.25" cy="640.0" r="8.2" fill="#161616"/>
<circle cx="565.6" cy="677.5" r="16.3" fill="#161616"/>
<circle cx="573.4" cy="759.4" r="14.4" fill="#161616"/>
<text x="577.63" y="554.30" font-family='"DejaVu Serif", "Liberation Serif", serif' font-size="15.637860082304528" font-weight="bold" font-style="normal" fill="#ffffff" textLength="12.71" lengthAdjust="spacingAndGlyphs" stroke="#ffffff" stroke-width="0.45" stroke-linejoin="round">A</text>
<text x="541.27" y="609.45" font-family='"DejaVu Serif", "Liberation Serif", serif' font-size="14.12894375857339" font-weight="bold" font-style="normal" fill="#ffffff" textLength="9.79" lengthAdjust="spacingAndGlyphs" stroke="#ffffff" stroke-width="0.45" stroke-linejoin="round">B</text>
<text x="476.02" y="643.60" font-family='"DejaVu Serif", "Liberation Serif", serif' font-size="9.876543209876544" font-weight="bold" font-style="normal" fill="#ffffff" textLength="7.25" lengthAdjust="spacingAndGlyphs" stroke="#ffffff" stroke-width="0.45" stroke-linejoin="round">A</text>
<text x="558.28" y="684.90" font-family='"DejaVu Serif", "Liberation Serif", serif' font-size="20.027434842249658" font-weight="bold" font-style="normal" fill="#ffffff" textLength="16.49" lengthAdjust="spacingAndGlyphs" stroke="#ffffff" stroke-width="0.45" stroke-linejoin="round">A</text>
<text x="566.75" y="765.90" font-family='"DejaVu Serif", "Liberation Serif", serif' font-size="17.00960219478738" font-weight="bold" font-style="normal" fill="#ffffff" textLength="12.79" lengthAdjust="spacingAndGlyphs" stroke="#ffffff" stroke-width="0.45" stroke-linejoin="round">B</text>
</g>
<g id="footer">
<rect x="0" y="947.9" width="1000" height="3.5" fill="#111"/>
<rect x="0" y="1002.4" width="1000" height="3.5" fill="#111"/>
<circle cx="198.6" cy="958" r="1.35" fill="#c2c2c2"/>
<circle cx="198.6" cy="967" r="1.35" fill="#c2c2c2"/>
<circle cx="198.6" cy="976.4" r="1.35" fill="#c2c2c2"/>
<circle cx="198.6" cy="985.6" r="1.35" fill="#c2c2c2"/>
<circle cx="198.6" cy="995" r="1.35" fill="#c2c2c2"/>
<text x="30.15" y="994.50" font-family='"DejaVu Serif", "Liberation Serif", serif' font-size="44.4" font-weight="normal" font-style="normal" fill="#111111" textLength="159.78" lengthAdjust="spacingAndGlyphs" stroke="#111111" stroke-width="1.6" stroke-linejoin="round">SIZING</text>
<text x="218.58" y="986.80" font-family='"DejaVu Sans", "Liberation Sans", sans-serif' font-size="19.2" font-weight="normal" font-style="normal" fill="#14252d" textLength="159.68" lengthAdjust="spacingAndGlyphs" stroke="#14252d" stroke-width="1.8" stroke-linejoin="round">PRO-TEC</text>
</g>
</svg>
</body>
</html>
